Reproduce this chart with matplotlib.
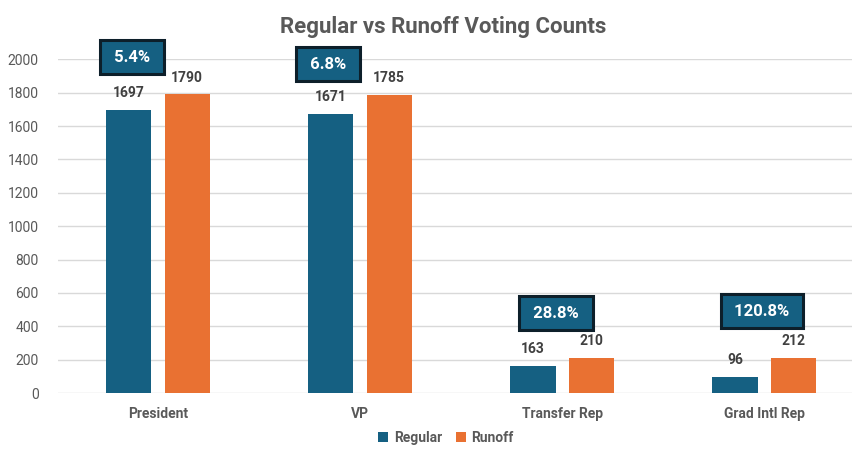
import matplotlib
matplotlib.use('Agg')
import matplotlib.pyplot as plt
import numpy as np

plt.rcParams['font.family'] = ['Roboto', 'DejaVu Sans']

# dados
categorias = ['President', 'VP', 'Transfer Rep', 'Grad Intl Rep']
regular = [1697, 1671, 163, 96]
runoff = [1790, 1785, 210, 212]
aumento = ['5.4%', '6.8%', '28.8%', '120.8%']
# posicao das caixas de percentual (x relativo a categoria, y em votos)
caixa_dx = [-0.13, -0.16, -0.03, -0.01]
caixa_y = [2012, 1970, 479, 491]

azul = '#156082'
laranja = '#E97132'
cinza = '#595959'

fig = plt.figure(figsize=(8.53, 4.51), dpi=100)
ax = fig.add_axes([0.068, 0.1286, 0.932, 0.740])

x = np.arange(len(categorias))
w = 0.223
off = 0.144
b1 = ax.bar(x - off, regular, w, color=azul, label='Regular', zorder=3)
b2 = ax.bar(x + off, runoff, w, color=laranja, label='Runoff', zorder=3)

for barras in (b1, b2):
    for b in barras:
        ax.annotate(str(int(b.get_height())), (b.get_x() + b.get_width() / 2, b.get_height()),
                    xytext=(0, 7), textcoords='offset points', ha='center', va='bottom',
                    fontsize=10, fontweight='bold', color='#404040')

for i, txt in enumerate(aumento):
    ax.text(x[i] + caixa_dx[i], caixa_y[i], ' ' + txt + ' ', ha='center', va='center',
            fontsize=12, fontweight='bold', color='white', zorder=5, clip_on=False,
            bbox=dict(boxstyle='square,pad=0.58', facecolor=azul, edgecolor='#0d1f2a', linewidth=2.2))

ax.set_xlim(-0.495, 3.44)
ax.set_ylim(0, 2000)
ax.set_yticks(range(0, 2001, 200))
ax.grid(axis='y', color='#D9D9D9', linewidth=1, zorder=0)
for s in ax.spines.values():
    s.set_visible(False)
ax.tick_params(axis='both', length=0, labelsize=10, labelcolor=cinza)
ax.tick_params(axis='y', pad=14)
ax.set_xticks(x)
ax.set_xticklabels(categorias, fontweight='bold', color=cinza, fontsize=10)
ax.tick_params(axis='x', pad=10)

fig.suptitle('Regular vs Runoff Voting Counts', x=0.52, y=0.965, fontsize=16,
             fontweight='bold', color=cinza)

ax.legend(loc='upper center', bbox_to_anchor=(0.488, -0.085), ncol=2, frameon=False,
          handlelength=0.7, handleheight=0.7, handletextpad=0.4, borderpad=0.2,
          columnspacing=1.0, labelcolor=cinza, prop={'weight': 'bold', 'size': 10})

fig.savefig('out.png', dpi=100)
